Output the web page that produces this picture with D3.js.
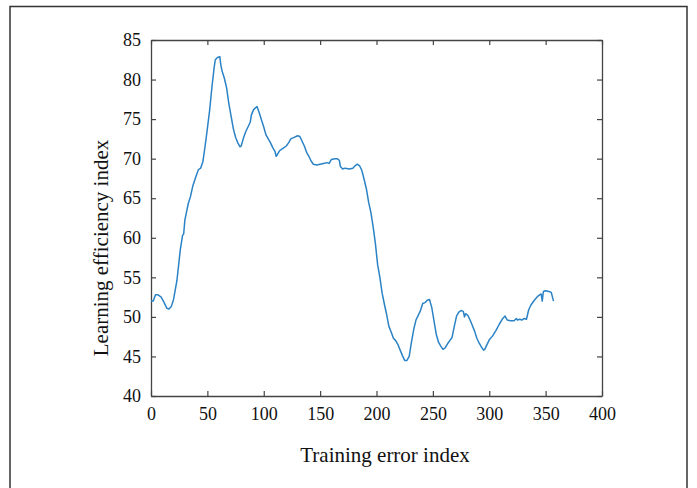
<!DOCTYPE html>
<html>
<head>
<meta charset="utf-8">
<script src="https://cdn.jsdelivr.net/npm/d3@7"></script>
<style>
  body { margin: 0; background: #fff; }
  svg { display: block; }
</style>
</head>
<body>
<svg id="chart" width="697" height="488"></svg>
<script>
// ---- DATA ----
const errIndex = [0,2,4,6,9,11,14,16,18,20,23,26,28,29,30,33,35,37,40,42,44,46,48,50,52,54,56,57,59,61,62,63,65,67,69,71,73,75,77,79,80,82,84,86,88,89,91,94,96,98,100,102,104,106,108,110,111,112,114,117,120,122,124,127,130,132,134,136,138,140,142,144,147,150,153,156,158,160,163,165,167,168,170,172,176,179,181,183,185,187,189,191,193,195,197,199,201,203,205,207,209,211,213,215,217,219,221,223,225,227,229,231,233,235,237,239,241,243,245,247,249,251,253,255,257,259,261,263,265,267,269,271,273,275,277,278,279,281,283,285,287,289,291,293,295,296,298,300,303,306,309,312,314,316,319,322,324,325,327,329,331,333,335,337,340,343,345,346,347,348,350,353,355,357];
const efficiency = [52.0,52.0,52.8,52.8,52.5,52.0,51.1,51.0,51.3,52.2,54.6,58.5,60.3,60.5,62.2,64.3,65.2,66.5,67.8,68.6,68.8,69.6,71.6,73.8,76.1,79.0,81.5,82.5,82.8,82.9,81.8,81.1,80.2,79.0,77.0,75.4,73.8,72.7,72.0,71.5,71.6,72.6,73.4,74.0,74.6,75.5,76.2,76.6,75.8,74.9,74.0,73.0,72.5,72.0,71.4,70.9,70.3,70.5,71.0,71.3,71.6,72.0,72.5,72.7,72.9,72.8,72.2,71.6,70.8,70.3,69.7,69.3,69.2,69.3,69.4,69.5,69.4,69.9,70.0,70.0,69.8,69.0,68.7,68.8,68.7,68.8,69.1,69.3,69.1,68.5,67.4,66.2,64.5,63.2,61.4,59.3,56.6,55.0,53.0,51.6,50.3,48.8,48.1,47.3,47.0,46.5,45.8,45.1,44.5,44.5,45.0,46.8,48.4,49.6,50.2,50.8,51.7,51.8,52.1,52.2,51.2,49.5,47.8,46.8,46.3,45.9,46.1,46.6,47.0,47.4,48.8,50.1,50.6,50.8,50.7,50.0,50.4,50.2,49.6,48.9,48.2,47.3,46.7,46.2,45.8,45.9,46.5,47.1,47.6,48.3,49.1,49.8,50.1,49.6,49.5,49.5,49.8,49.6,49.7,49.6,49.8,49.7,50.9,51.5,52.1,52.6,52.8,52.9,52.0,53.2,53.3,53.2,53.1,52.0];
const xTicks = [0,50,100,150,200,250,300,350,400];
const yTicks = [40,45,50,55,60,65,70,75,80,85];

const xLabel = "Training error index";
const yLabel = "Learning efficiency index";

// ---- LAYOUT ----
const svg = d3.select("#chart");
const W = 697, H = 488;
const margin = { top: 40, right: 95, bottom: 92, left: 151 };
const plotW = W - margin.left - margin.right;
const plotH = H - margin.top - margin.bottom;
const axisColor = "#444";
const lineColor = "#2b83c6";
const font = '"Liberation Serif", "Times New Roman", serif';

svg.append("rect").attr("width", W).attr("height", H).attr("fill", "#fff");

// outer frame
svg.append("rect")
  .attr("x", 10).attr("y", 6.5)
  .attr("width", 677).attr("height", 500)
  .attr("fill", "none")
  .attr("stroke", "#333")
  .attr("stroke-width", 1.5);

const g = svg.append("g").attr("transform", `translate(${margin.left},${margin.top})`);

const x = d3.scaleLinear().domain([0, 400]).range([0, plotW]);
const y = d3.scaleLinear().domain([40, 85]).range([plotH, 0]);

const tickLen = 5;

// bottom axis (ticks inward)
const xAxis = g.append("g")
  .attr("transform", `translate(0,${plotH})`)
  .call(d3.axisBottom(x).tickValues(xTicks).tickSizeInner(-tickLen).tickSizeOuter(0).tickPadding(tickLen + 6));
// top axis mirror
const xTop = g.append("g")
  .call(d3.axisTop(x).tickValues(xTicks).tickSizeInner(-tickLen).tickSizeOuter(0).tickFormat(""));
// left axis
const yAxis = g.append("g")
  .call(d3.axisLeft(y).tickValues(yTicks).tickSizeInner(-tickLen).tickSizeOuter(0).tickPadding(tickLen + 5));
// right axis mirror
const yRight = g.append("g")
  .attr("transform", `translate(${plotW},0)`)
  .call(d3.axisRight(y).tickValues(yTicks).tickSizeInner(-tickLen).tickSizeOuter(0).tickFormat(""));

[xAxis, xTop, yAxis, yRight].forEach(a => {
  a.attr("font-family", font).attr("font-size", 18);
  a.select(".domain").attr("stroke", axisColor).attr("stroke-width", 1.3);
  a.selectAll(".tick line").attr("stroke", axisColor).attr("stroke-width", 1.2);
  a.selectAll(".tick text").attr("fill", "#111");
});

// line
const line = d3.line()
  .x((d, i) => x(errIndex[i]))
  .y(d => y(d));

g.append("path")
  .datum(efficiency)
  .attr("fill", "none")
  .attr("stroke", lineColor)
  .attr("stroke-width", 1.5)
  .attr("stroke-linejoin", "round")
  .attr("d", line);

// axis labels
svg.append("text")
  .attr("x", 385)
  .attr("y", 462)
  .attr("text-anchor", "middle")
  .attr("font-family", font)
  .attr("font-size", 21)
  .attr("fill", "#111")
  .text(xLabel);

svg.append("text")
  .attr("transform", "translate(108,248) rotate(-90)")
  .attr("text-anchor", "middle")
  .attr("font-family", font)
  .attr("font-size", 21)
  .attr("fill", "#111")
  .text(yLabel);
</script>
</body>
</html>
